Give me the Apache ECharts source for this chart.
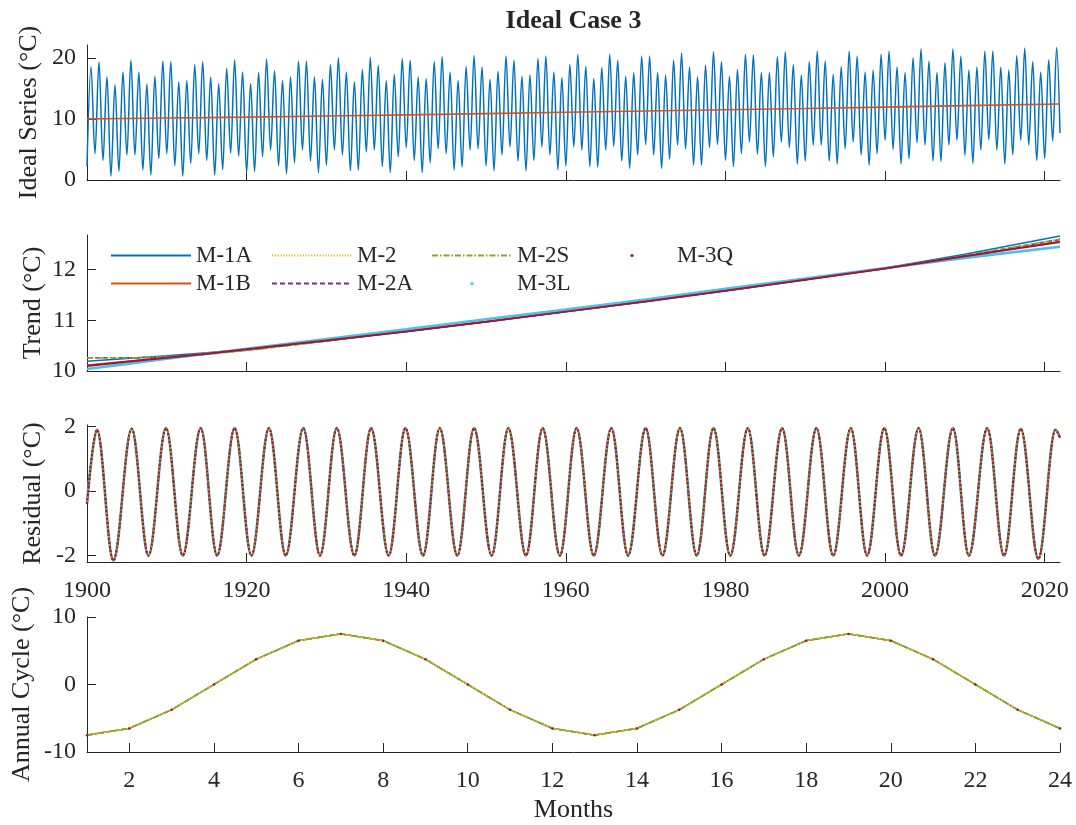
<!DOCTYPE html>
<html>
<head>
<meta charset="utf-8">
<script src="https://cdn.jsdelivr.net/npm/echarts@6/dist/echarts.min.js"></script>
<style>
html,body{margin:0;padding:0;background:#ffffff;}
#chart{width:1076px;height:825px;}
</style>
</head>
<body>
<div id="chart"></div>
<script>
// ================= DATA =================
// Panel 1: ideal monthly series, read at each year's January trough and July peak (1900..2021)
const firstYear = 1900;
const idealJan = [
  2.3, 4.3, 3.2, 0.6, 1.4, 4.1, 4.1, 1.6, 0.8, 3.5, 4.3, 2.3, 0.6, 2.7, 4.3, 3.2, 0.8, 1.7, 4.4, 3.9,
  1.2, 1.4, 3.8, 4.9, 2.3, 1.0, 2.8, 4.9, 3.1, 1.2,
  2.4, 4.9, 4.1, 1.5, 1.6, 4.6, 4.9, 2.2, 1.2, 3.8, 5.3, 3.2, 1.2, 2.8, 5.1, 4.3, 1.6, 2.1, 4.9, 5.1,
  2.3, 1.5, 4.1, 5.4, 3.1, 1.5, 3.2, 5.4, 4.1, 1.7, 2.3,
  5.4, 4.9, 2.2, 2.1, 4.9, 5.5, 3.1, 1.9, 4.1, 5.8, 4.1, 1.9, 3.4, 5.7, 5.1, 2.4, 2.4, 5.3, 5.8, 3.2,
  2.2, 4.3, 6.2, 4.2, 2.2, 3.8, 6.2, 5.3, 2.6, 3.1, 5.7,
  5.7, 3.1, 2.6, 5.1, 6.2, 4.1, 2.4, 4.3, 6.5, 5.0, 2.6, 3.5, 6.1, 5.7, 3.1, 3.0, 5.7, 6.5, 4.0, 2.7,
  4.9, 6.6, 4.9, 2.6, 4.1, 6.5, 5.7, 3.2, 3.5, 6.4
];
const idealJul = [
  18.5, 19.3, 16.9, 15.6, 17.7, 19.6, 17.7, 15.7, 17.0, 19.5, 19.4, 16.1, 16.3, 18.9, 19.4, 16.9, 15.8, 18.3, 19.7, 17.7,
  15.8, 17.6, 19.8, 17.9, 16.3, 16.9, 19.5, 19.5, 16.9, 16.5,
  18.9, 20.0, 17.7, 16.1, 18.1, 20.1, 18.8, 16.3, 17.3, 19.9, 19.6, 16.9, 16.6, 19.4, 20.2, 17.7, 16.3, 18.6, 20.4, 18.5,
  16.5, 17.8, 20.3, 19.6, 17.0, 17.2, 19.9, 20.3, 17.7, 16.8, 18.9,
  20.6, 18.6, 16.6, 18.4, 20.6, 19.6, 17.0, 17.6, 20.3, 20.3, 17.6, 17.2, 19.6, 20.8, 18.5, 16.9, 18.8, 21.0, 19.4, 17.0,
  18.1, 20.6, 20.5, 17.6, 17.6, 20.2, 21.0, 18.9, 17.2, 19.4, 21.1,
  19.5, 17.3, 18.6, 21.1, 20.3, 17.7, 18.0, 20.6, 21.1, 18.5, 17.6, 20.0, 21.5, 19.5, 17.6, 19.2, 21.5, 20.3, 18.0, 18.5,
  21.1, 21.1, 18.5, 18.0, 20.4, 21.6, 19.4, 17.7, 19.7, 21.7
];
const idealLastTime = 2021.917;   // December 2021
const idealLastValue = 7.7;

// Trend curves (years at which values were read)
const trendYears = [1900, 1905, 1910, 1915, 1920, 1930, 1940, 1950, 1960, 1970, 1980, 1990, 2000, 2010, 2021.917];
const trueTrend  = [10.00, 10.07, 10.14, 10.21, 10.29, 10.48, 10.66, 10.87, 11.10, 11.30, 11.50, 11.70, 11.93, 12.17, 12.43];
const trendM1A = [10.19, 10.245, 10.30, 10.36, 10.43, 10.60, 10.78, 10.97, 11.17, 11.38, 11.59, 11.81, 12.03, 12.30, 12.66];
const trendM1B = [10.12, 10.19, 10.27, 10.35, 10.43, 10.60, 10.78, 10.97, 11.17, 11.37, 11.58, 11.80, 12.02, 12.26, 12.55];
const trendM2  = [10.26, 10.26, 10.27, 10.33, 10.41, 10.59, 10.78, 10.97, 11.17, 11.37, 11.58, 11.80, 12.02, 12.27, 12.60];
const trendM2A = [10.26, 10.26, 10.27, 10.33, 10.41, 10.59, 10.78, 10.97, 11.17, 11.37, 11.58, 11.80, 12.02, 12.27, 12.59];
const trendM2S = [10.26, 10.26, 10.28, 10.33, 10.40, 10.59, 10.78, 10.97, 11.17, 11.37, 11.58, 11.80, 12.02, 12.27, 12.60];
const trendM3L = [10.04, 10.14, 10.24, 10.34, 10.44, 10.63, 10.82, 11.02, 11.21, 11.41, 11.62, 11.82, 12.03, 12.23, 12.45];
const trendM3Q = [10.10, 10.18, 10.26, 10.34, 10.43, 10.60, 10.78, 10.97, 11.17, 11.37, 11.58, 11.80, 12.02, 12.26, 12.54];

// Residual: times and values of its start, peaks, troughs and end
const residTimes = [
  1900.0, 1901.25, 1903.3, 1905.6, 1907.7, 1909.9, 1912.0, 1914.25, 1916.3, 1918.5, 1920.6, 1922.8, 1924.9,
  1927.1, 1929.2, 1931.3, 1933.5, 1935.6, 1937.8, 1939.9, 1942.1, 1944.2, 1946.4, 1948.5, 1950.7, 1952.8,
  1955.0, 1957.1, 1959.25, 1961.35, 1963.5, 1965.7, 1967.8, 1970.0, 1972.1, 1974.3, 1976.4, 1978.5, 1980.6,
  1982.8, 1984.9, 1987.1, 1989.2, 1991.4, 1993.5, 1995.7, 1997.75, 1999.9, 2002.0, 2004.2, 2006.25, 2008.5,
  2010.5, 2012.8, 2014.9, 2017.0, 2019.2, 2021.35, 2021.917
];
const residValues = [
  -0.4, 1.9, -2.15, 1.93, -2.0, 1.95, -2.0, 1.95, -2.0, 1.95, -2.0, 1.95, -2.0,
  1.95, -2.0, 1.95, -2.0, 1.95, -2.0, 1.95, -2.0, 1.95, -2.0, 1.95, -2.0, 1.95,
  -2.0, 1.95, -2.0, 1.95, -2.0, 1.95, -2.0, 1.95, -2.0, 1.95, -2.0, 1.95, -2.0,
  1.95, -2.0, 1.95, -2.0, 1.95, -2.0, 1.95, -2.0, 1.95, -2.0, 1.95, -2.0, 1.95,
  -2.0, 1.95, -2.0, 1.93, -2.1, 1.9, 1.65
];

// Annual cycle (months 1..24)
const months = [1,2,3,4,5,6,7,8,9,10,11,12,13,14,15,16,17,18,19,20,21,22,23,24];
const annualCycle = [-7.5, -6.5, -3.75, 0, 3.75, 6.5, 7.5, 6.5, 3.75, 0, -3.75, -6.5,
                     -7.5, -6.5, -3.75, 0, 3.75, 6.5, 7.5, 6.5, 3.75, 0, -3.75, -6.5];

// Tick labels
const yearTicks = [1900, 1920, 1940, 1960, 1980, 2000, 2020];
const monthTicks = [2, 4, 6, 8, 10, 12, 14, 16, 18, 20, 22, 24];
const idealTicks = [0, 10, 20];
const trendTicks = [10, 11, 12];
const residTicks = [-2, 0, 2];
const cycleTicks = [-10, 0, 10];
const methodNames = ['M-1A', 'M-1B', 'M-2', 'M-2A', 'M-2S', 'M-3L', 'M-3Q'];

// ================= BUILD =================
const FONT = '"Liberation Serif","Times New Roman",serif';
const INK = '#262626';
const COLORS = {'M-1A':'#0072BD','M-1B':'#D95319','M-2':'#EDB120','M-2A':'#7E2F8E','M-2S':'#77AC30','M-3L':'#4DBEEE','M-3Q':'#A2142F'};
const plain = v => String(v);

function pairs(xs, ys){ return xs.map((x,i)=>[x, ys[i]]); }

const idealData = [];
for (let i = 0; i < idealJan.length; i++) {
  idealData.push([firstYear + i, idealJan[i]]);
  idealData.push([firstYear + i + 0.5, idealJul[i]]);
}
idealData.push([idealLastTime, idealLastValue]);

const trendByMethod = {'M-1A':trendM1A,'M-1B':trendM1B,'M-2':trendM2,'M-2A':trendM2A,'M-2S':trendM2S,'M-3L':trendM3L,'M-3Q':trendM3Q};

const grids = [
  {left:87, width:973, top:45,  height:135},
  {left:87, width:973, top:235, height:136},
  {left:87, width:973, top:425, height:137},
  {left:87, width:973, top:617, height:135}
];

function xAx(gi, showLabels){
  return {
    type:'value', gridIndex:gi, min:1900, max:2021.917,
    axisLine:{show:true, onZero:false, lineStyle:{color:INK, width:1}},
    axisTick:{show:true, inside:true, length:9, customValues:yearTicks, lineStyle:{color:INK, width:1}},
    axisLabel:{show:showLabels, customValues:yearTicks, formatter:plain, color:INK, fontFamily:FONT, fontSize:24, margin:17},
    splitLine:{show:false}
  };
}
function yAx(gi, min, max, ticks, name, gap){
  return {
    type:'value', gridIndex:gi, min:min, max:max,
    name:name, nameLocation:'middle', nameGap:gap, nameMoveOverlap:false,
    nameTextStyle:{color:INK, fontFamily:FONT, fontSize:26},
    axisLine:{show:true, onZero:false, lineStyle:{color:INK, width:1}},
    axisTick:{show:true, inside:true, length:9, customValues:ticks, lineStyle:{color:INK, width:1}},
    axisLabel:{customValues:ticks, formatter:plain, color:INK, fontFamily:FONT, fontSize:24, margin:11},
    splitLine:{show:false}
  };
}

const lineStyles = {
  'M-1A':{type:'solid', width:1.5},
  'M-1B':{type:'solid', width:1.5},
  'M-2':{type:[1.2,1.6], width:1.5},
  'M-2A':{type:[5,3], width:1.5},
  'M-2S':{type:[6,2,1.5,2], width:1.5},
  'M-3L':{type:'solid', width:2.6},
  'M-3Q':{type:'solid', width:2}
};

function baseLine(name, xi, data, ls, extra){
  return Object.assign({
    type:'line', name:name, xAxisIndex:xi, yAxisIndex:xi, data:data,
    symbol:'none', showSymbol:false, silent:true, animation:false,
    itemStyle:{color:COLORS[name]},
    lineStyle:Object.assign({color:COLORS[name]}, ls)
  }, extra||{});
}

const series = [];
// Panel 2: trends (first, so legend picks these styles)
methodNames.forEach(n => series.push(baseLine(n, 1, pairs(trendYears, trendByMethod[n]), lineStyles[n])));
// Panel 3: residuals
const residData = pairs(residTimes, residValues);
const residOrder = ['M-3L','M-1A','M-1B','M-2A','M-2','M-2S','M-3Q'];
residOrder.forEach(n => {
  let ls = Object.assign({}, lineStyles[n]);
  if (n === 'M-3Q') { ls = {type:[2,2], width:2}; }
  if (n === 'M-3L') { ls = {type:'solid', width:2.8}; }
  series.push(baseLine(n, 2, residData, ls, {smooth:0.36, smoothMonotone:'x'}));
});
// Panel 4: annual cycle
const cycData = pairs(months, annualCycle);
['M-1A','M-1B','M-2A','M-3L'].forEach(n => series.push(baseLine(n, 3, cycData, {type:'solid', width:1.2})));
series.push(baseLine('M-2', 3, cycData, {type:'solid', width:1.6}));
series.push(baseLine('M-2S', 3, cycData, {type:[6,2,1.5,2], width:1.6}));
series.push(baseLine('M-3Q', 3, cycData, {width:0, opacity:0}, {symbol:'circle', showSymbol:true, symbolSize:2.5}));
// Panel 1: ideal series and its trend
series.push({
  type:'line', name:'Ideal', xAxisIndex:0, yAxisIndex:0, data:idealData,
  symbol:'none', showSymbol:false, silent:true, animation:false,
  smooth:0.36, smoothMonotone:'x',
  lineStyle:{color:'#0072BD', width:1.5}
});
series.push({
  type:'line', name:'TrueTrend', xAxisIndex:0, yAxisIndex:0, data:pairs(trendYears, trueTrend),
  symbol:'none', showSymbol:false, silent:true, animation:false,
  lineStyle:{color:'#D95319', width:1.6}
});

// Legends (MATLAB column-major layout: 4 columns, 2 rows)
const legendPos = {
  'M-1A':[110,0], 'M-2':[271,0], 'M-2S':[431,0], 'M-3Q':[591,0],
  'M-1B':[110,1], 'M-2A':[271,1], 'M-3L':[431,1]
};
const rowTop = [244, 272];
const legends = Object.keys(legendPos).map(n => {
  const dotted = (n === 'M-3L' || n === 'M-3Q');
  const item = dotted ? {name:n, lineStyle:{opacity:0}} : {name:n, itemStyle:{opacity:0}};
  return {
    data:[item], left:legendPos[n][0], top:rowTop[legendPos[n][1]],
    orient:'horizontal', padding:0, itemWidth:80, itemHeight:4, itemGap:0,
    selectedMode:false,
    textStyle:{color:INK, fontFamily:FONT, fontSize:23}
  };
});

const option = {
  animation:false,
  backgroundColor:'#ffffff',
  grid:grids,
  xAxis:[
    xAx(0, false),
    xAx(1, false),
    xAx(2, true),
    {
      type:'value', gridIndex:3, min:1, max:24,
      name:'Months', nameLocation:'middle', nameGap:45, nameMoveOverlap:false,
      nameTextStyle:{color:INK, fontFamily:FONT, fontSize:26},
      axisLine:{show:true, onZero:false, lineStyle:{color:INK, width:1}},
      axisTick:{show:true, inside:true, length:9, customValues:monthTicks, lineStyle:{color:INK, width:1}},
      axisLabel:{customValues:monthTicks, formatter:plain, color:INK, fontFamily:FONT, fontSize:24, margin:17},
      splitLine:{show:false}
    }
  ],
  yAxis:[
    yAx(0, 0, 22.1, idealTicks, 'Ideal Series (°C)', 45),
    yAx(1, 10, 12.68, trendTicks, 'Trend (°C)', 41),
    yAx(2, -2.2, 2.05, residTicks, 'Residual (°C)', 41),
    yAx(3, -10, 10, cycleTicks, 'Annual Cycle (°C)', 52)
  ],
  legend:legends,
  graphic:[{
    type:'text', x:573.5, y:21,
    style:{text:'Ideal Case 3', fill:INK, font:'bold 26px "Liberation Serif","Times New Roman",serif',
           textAlign:'center', textVerticalAlign:'middle'}
  }],
  series:series
};

const chart = echarts.init(document.getElementById('chart'), null, {renderer:'canvas'});
chart.setOption(option);
</script>
</body>
</html>
